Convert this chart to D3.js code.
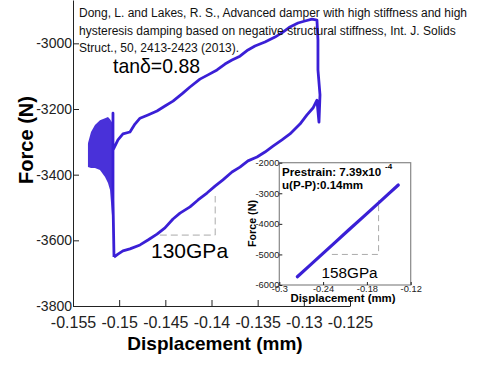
<!DOCTYPE html>
<html>
<head>
<meta charset="utf-8">
<script src="https://cdnjs.cloudflare.com/ajax/libs/d3/7.8.5/d3.min.js"></script>
<style>
  body { margin: 0; background: #fff; }
  svg { display: block; }
</style>
</head>
<body>
<div id="chart"></div>
<script>
// hysteresis loop: [displacement (mm), force (N)]
var lowerBranch = [
  [-0.15056, -3651], [-0.15013, -3642], [-0.14959, -3632], [-0.14883, -3626],
  [-0.14774, -3614], [-0.14688, -3599], [-0.14590, -3581], [-0.14504, -3562],
  [-0.14417, -3535], [-0.14341, -3517], [-0.14233, -3498], [-0.14146, -3477],
  [-0.14049, -3456], [-0.13962, -3435], [-0.13876, -3416], [-0.13778, -3392],
  [-0.13692, -3377], [-0.13605, -3358], [-0.13507, -3346], [-0.13421, -3331],
  [-0.13334, -3313], [-0.13237, -3294], [-0.13150, -3276], [-0.13042, -3246],
  [-0.12966, -3218], [-0.12901, -3197], [-0.12858, -3173]
];
var rightEdge = [
  [-0.12836, -3240], [-0.12825, -3157], [-0.12847, -3081], [-0.12847, -2990],
  [-0.12858, -2929]
];
var upperBranch = [
  [-0.12912, -2926], [-0.12988, -2932], [-0.13063, -2938], [-0.13150, -2950],
  [-0.13226, -2966], [-0.13312, -2981], [-0.13421, -2996], [-0.13529, -3008],
  [-0.13605, -3020], [-0.13692, -3039], [-0.13778, -3051], [-0.13854, -3063],
  [-0.13940, -3081], [-0.14038, -3096], [-0.14125, -3109], [-0.14233, -3133],
  [-0.14320, -3154], [-0.14417, -3176], [-0.14504, -3191], [-0.14590, -3206],
  [-0.14688, -3218], [-0.14774, -3228], [-0.14829, -3246], [-0.14883, -3270],
  [-0.14959, -3276], [-0.15013, -3294], [-0.15067, -3325]
];
var leftDrop = [
  [-0.15067, -3213], [-0.15067, -3325], [-0.15067, -3477], [-0.15056, -3651]
];

// vibration block at the left end of the loop
var noiseDisp = [-0.15338, -0.15305, -0.15262, -0.15208, -0.15153, -0.15121, -0.15099, -0.15078, -0.15056];
var noiseTop = [-3304, -3270, -3249, -3234, -3228, -3224, -3231, -3240, -3295];
var noiseBottom = [-3377, -3380, -3380, -3386, -3407, -3425, -3447, -3523, -3599];

var xTicks = [-0.155, -0.15, -0.145, -0.14, -0.135, -0.13, -0.125];
var yTicks = [-3800, -3600, -3400, -3200, -3000];

// inset: prestrained sample
var insetLine = [
  [-0.2753, -5729], [-0.2600, -5400], [-0.2450, -5070], [-0.2250, -4640],
  [-0.2050, -4200], [-0.1850, -3770], [-0.1650, -3340], [-0.1500, -3010],
  [-0.1370, -2729]
];
var insetXTicks = [-0.3, -0.24, -0.18, -0.12];
var insetYTicks = [-6000, -5000, -4000, -3000, -2000];

var citation = [
  "Dong, L. and Lakes, R. S., Advanced damper with high stiffness and high",
  "hysteresis damping based on negative structural stiffness, Int. J. Solids",
  "Struct., 50, 2413-2423 (2013)."
];

var w = 498;
var h = 385;
var font = "'Liberation Sans', Arial, sans-serif";
var blue = "#3a1fd6";

var svg = d3.select("#chart")
  .append("svg")
  .attr("width", w)
  .attr("height", h)
  .style("font-family", font);

// main scales
var xScale = d3.scaleLinear().domain([-0.155, -0.125]).range([73, 350]);
var yScale = d3.scaleLinear().domain([-3800, -2868]).range([306, 0]);

var line = d3.line()
  .x(function(d) { return xScale(d[0]); })
  .y(function(d) { return yScale(d[1]); });

// the noisy block
var noise = noiseDisp.map(function(d, i) { return [d, noiseTop[i], noiseBottom[i]]; });
svg.append("path")
  .datum(noise)
  .attr("d", d3.area()
    .x(function(d) { return xScale(d[0]); })
    .y0(function(d) { return yScale(d[2]); })
    .y1(function(d) { return yScale(d[1]); }))
  .attr("fill", blue)
  .attr("opacity", 0.92);

// the loop
var loop = lowerBranch.concat(rightEdge, upperBranch, leftDrop);
svg.append("path")
  .datum(loop)
  .attr("d", line)
  .attr("fill", "none")
  .attr("stroke", blue)
  .attr("stroke-width", 2.8)
  .attr("stroke-linejoin", "round");

// dashed slope guide (130GPa)
svg.append("path")
  .datum([[-0.1456, -3584], [-0.1396, -3584], [-0.1396, -3465]])
  .attr("d", line)
  .attr("fill", "none")
  .attr("stroke", "#aaa")
  .attr("stroke-width", 1)
  .attr("stroke-dasharray", "7,4");

// axes, ticks point inwards
var xAxis = d3.axisBottom(xScale)
  .tickValues(xTicks)
  .tickSizeInner(-6)
  .tickSizeOuter(0)
  .tickPadding(11)
  .tickFormat(function(d) { return String(d); });

var yAxis = d3.axisLeft(yScale)
  .tickValues(yTicks)
  .tickSizeInner(-6)
  .tickSizeOuter(0)
  .tickPadding(1)
  .tickFormat(function(d) { return String(d); });

svg.append("g")
  .attr("transform", "translate(0,306)")
  .call(xAxis)
  .attr("font-family", font)
  .attr("font-size", 16)
  .attr("color", "#222");

svg.append("g")
  .attr("transform", "translate(73,0)")
  .call(yAxis)
  .attr("font-family", font)
  .attr("font-size", 14)
  .attr("color", "#222");

svg.append("text")
  .attr("x", 215)
  .attr("y", 350)
  .attr("text-anchor", "middle")
  .attr("font-size", 19)
  .attr("font-weight", "bold")
  .text("Displacement (mm)");

svg.append("text")
  .attr("transform", "translate(33,140) rotate(-90)")
  .attr("text-anchor", "middle")
  .attr("font-size", 20)
  .attr("font-weight", "bold")
  .text("Force (N)");

// citation and labels
svg.selectAll(".cite")
  .data(citation)
  .enter()
  .append("text")
  .attr("class", "cite")
  .attr("x", 79)
  .attr("y", function(d, i) { return 17 + i * 17.5; })
  .attr("font-size", 12)
  .attr("fill", "#111")
  .text(function(d) { return d; });

svg.append("text")
  .attr("x", 113)
  .attr("y", 73)
  .attr("font-size", 21)
  .attr("textLength", 87)
  .attr("lengthAdjust", "spacingAndGlyphs")
  .text("tanδ=0.88");

svg.append("text")
  .attr("x", 151)
  .attr("y", 258)
  .attr("font-size", 21)
  .text("130GPa");

// ---------------- inset ----------------
var ix = d3.scaleLinear().domain([-0.3, -0.12]).range([279.3, 410.7]);
var iy = d3.scaleLinear().domain([-6000, -2000]).range([285, 162.7]);

var inset = svg.append("g");

inset.append("rect")
  .attr("x", ix(-0.3))
  .attr("y", iy(-2000))
  .attr("width", ix(-0.12) - ix(-0.3))
  .attr("height", iy(-6000) - iy(-2000))
  .attr("fill", "#fff")
  .attr("stroke", "#888")
  .attr("stroke-width", 1.2);

var iline = d3.line()
  .x(function(d) { return ix(d[0]); })
  .y(function(d) { return iy(d[1]); });

inset.append("path")
  .datum([[-0.228, -5000], [-0.164, -5000], [-0.164, -3230]])
  .attr("d", iline)
  .attr("fill", "none")
  .attr("stroke", "#aaa")
  .attr("stroke-width", 1)
  .attr("stroke-dasharray", "6,4");

inset.append("path")
  .datum(insetLine)
  .attr("d", iline)
  .attr("fill", "none")
  .attr("stroke", blue)
  .attr("stroke-width", 3.2)
  .attr("stroke-linecap", "round");

inset.append("g")
  .attr("transform", "translate(0," + iy(-6000) + ")")
  .call(d3.axisBottom(ix)
    .tickValues(insetXTicks)
    .tickSizeInner(-3)
    .tickSizeOuter(0)
    .tickPadding(0.5)
    .tickFormat(function(d) { return String(d); }))
  .attr("font-family", font)
  .attr("font-size", 9.3)
  .attr("color", "#222")
  .select(".domain").remove();

inset.append("g")
  .attr("transform", "translate(" + ix(-0.3) + ",0)")
  .call(d3.axisLeft(iy)
    .tickValues(insetYTicks)
    .tickSizeInner(-3)
    .tickSizeOuter(0)
    .tickPadding(0)
    .tickFormat(function(d) { return String(d); }))
  .attr("font-family", font)
  .attr("font-size", 9.3)
  .attr("color", "#222")
  .select(".domain").remove();

inset.append("text")
  .attr("x", 343)
  .attr("y", 302)
  .attr("text-anchor", "middle")
  .attr("font-size", 11.4)
  .attr("font-weight", "bold")
  .text("Displacement (mm)");

inset.append("text")
  .attr("transform", "translate(256,223.5) rotate(-90)")
  .attr("text-anchor", "middle")
  .attr("font-size", 10.7)
  .attr("font-weight", "bold")
  .text("Force (N)");

inset.append("text")
  .attr("x", 282)
  .attr("y", 176)
  .attr("font-size", 11.6)
  .attr("font-weight", "bold")
  .text("Prestrain: 7.39x10");

inset.append("text")
  .attr("x", 385)
  .attr("y", 169)
  .attr("font-size", 8)
  .attr("font-weight", "bold")
  .text("-4");

inset.append("text")
  .attr("x", 282)
  .attr("y", 188.5)
  .attr("font-size", 11.6)
  .attr("font-weight", "bold")
  .text("u(P-P):0.14mm");

inset.append("text")
  .attr("x", 321.5)
  .attr("y", 278)
  .attr("font-size", 15.3)
  .text("158GPa");
</script>
</body>
</html>
